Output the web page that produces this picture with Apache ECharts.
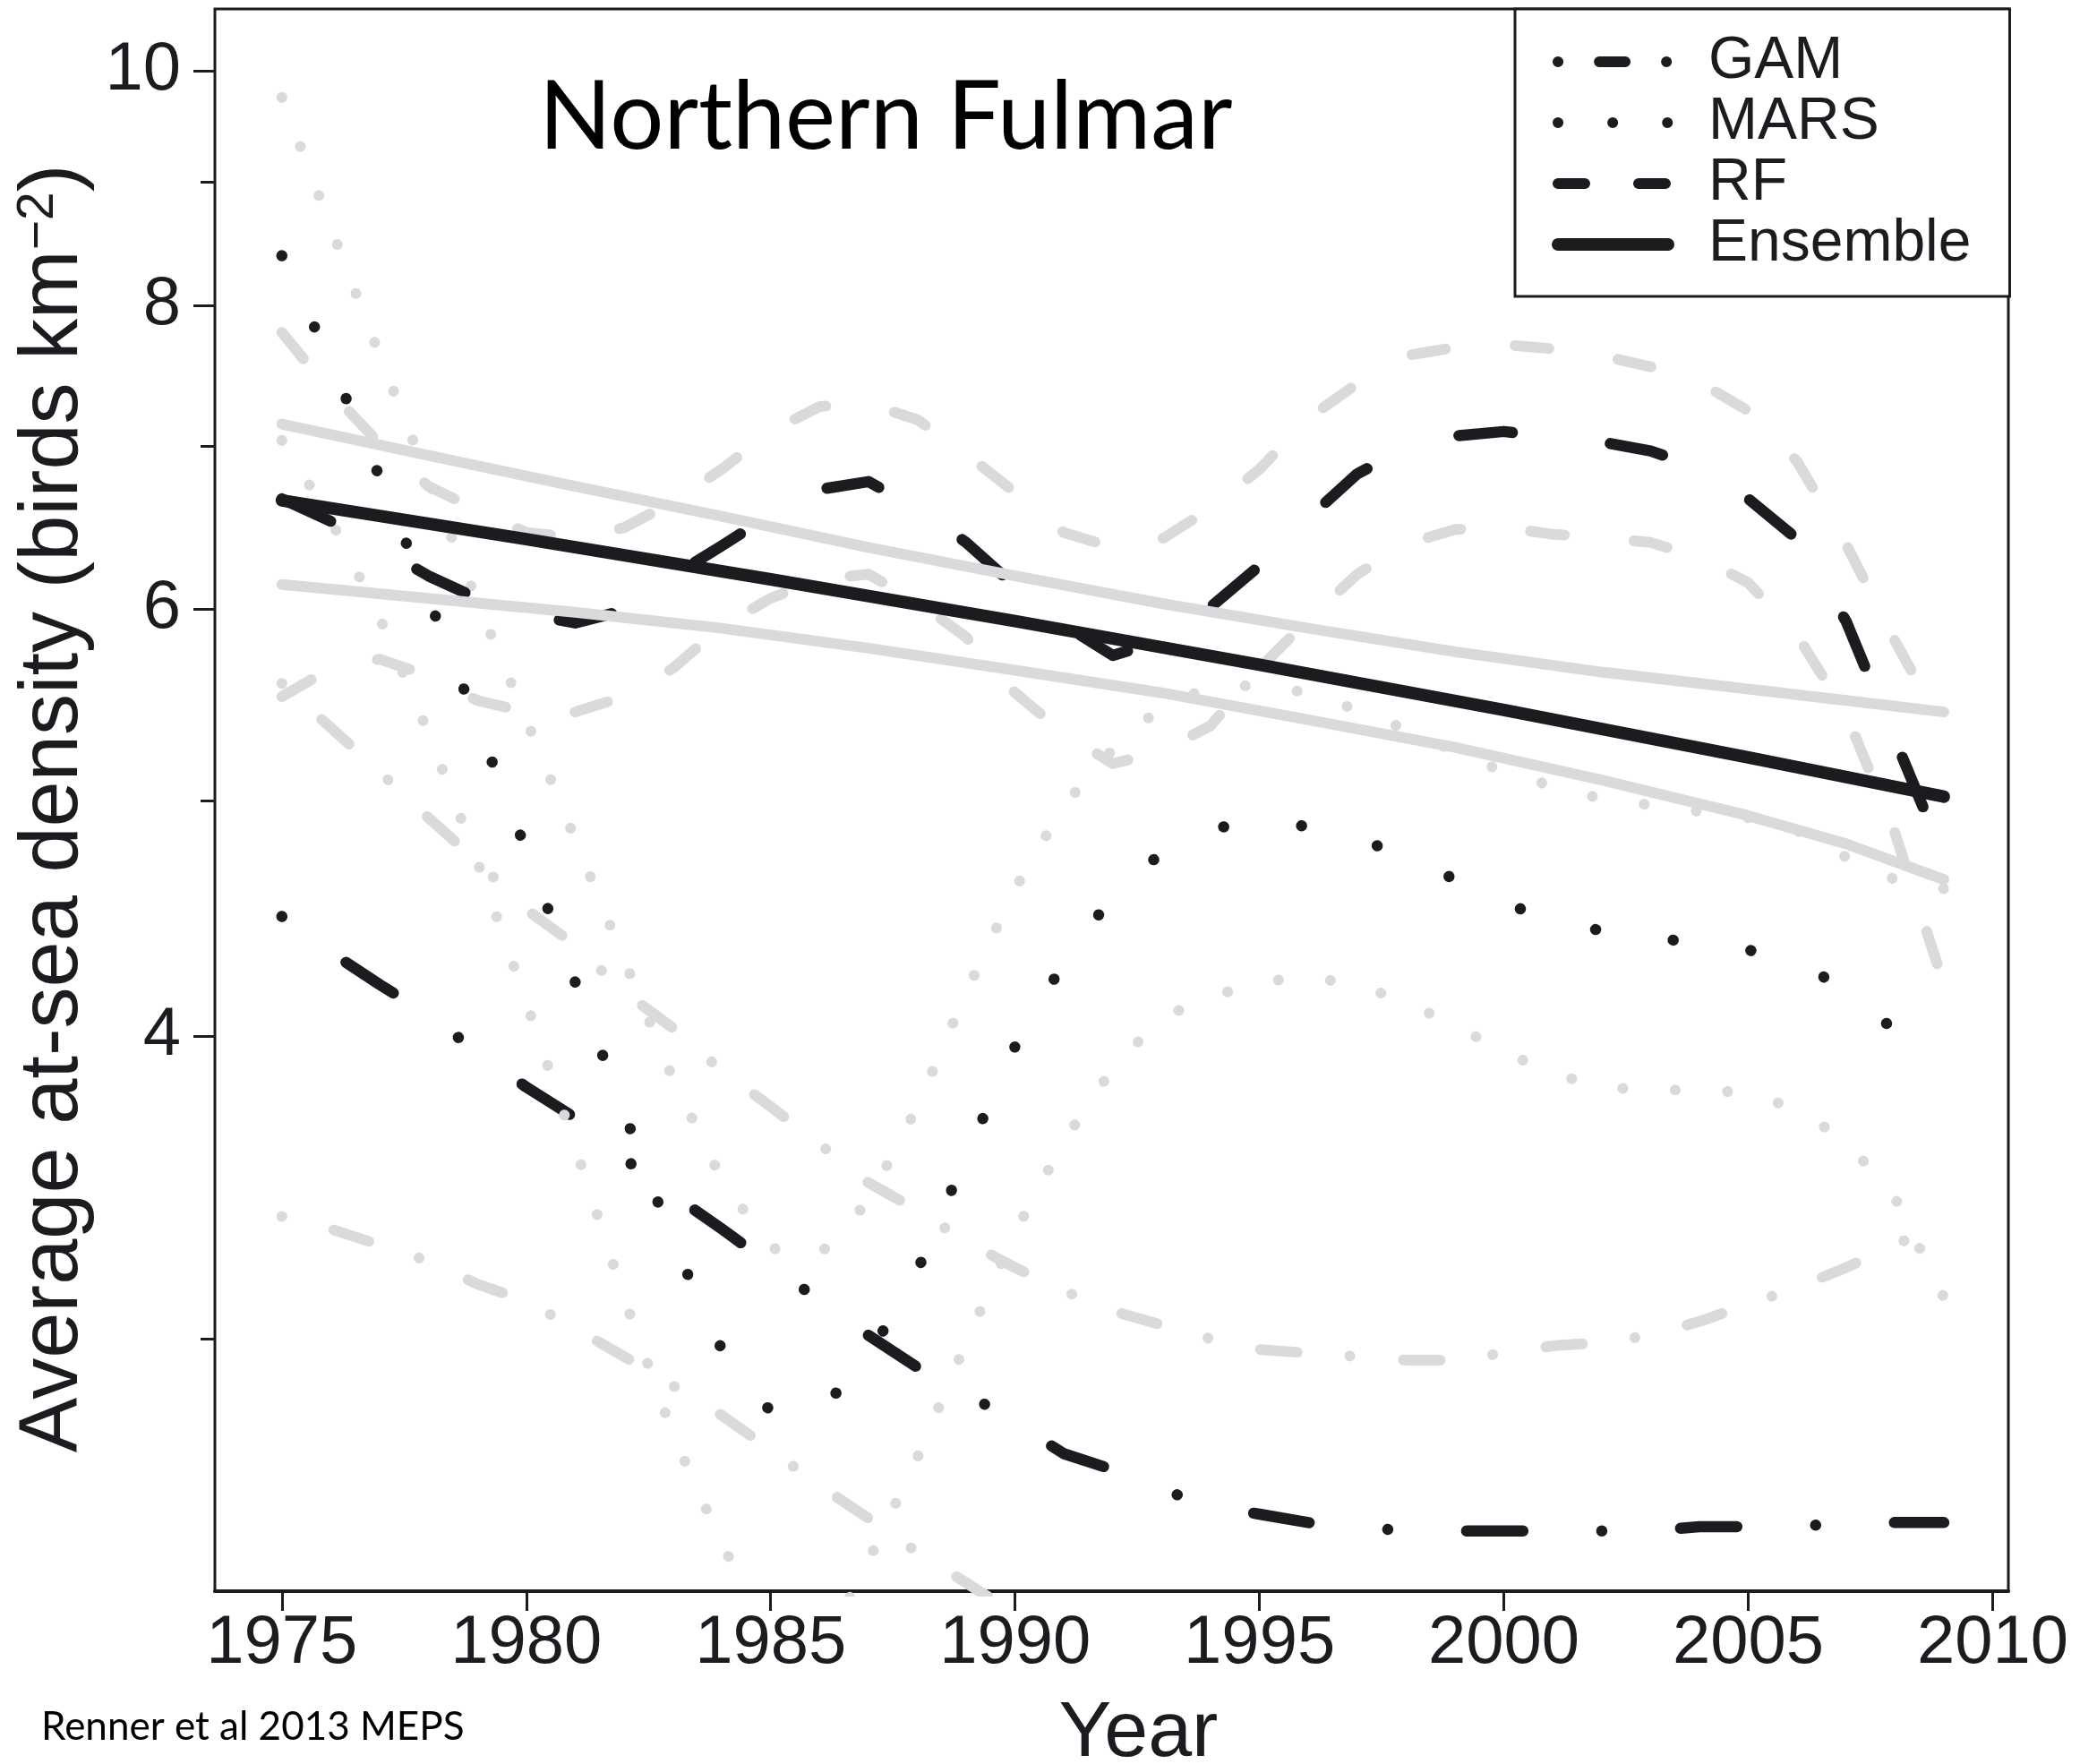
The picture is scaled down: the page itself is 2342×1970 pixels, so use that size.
<!DOCTYPE html>
<html>
<head>
<meta charset="utf-8">
<title>Northern Fulmar</title>
<script src="https://cdn.jsdelivr.net/npm/echarts@6/dist/echarts.min.js"></script>
<style>
  html, body { margin: 0; padding: 0; background: #ffffff; }
  #chart { width: 2342px; height: 1970px; }
</style>
</head>
<body>
<div id="chart"></div>
<script>
// Survey years for the model predictions
const years = [1975, 1976, 1977, 1978, 1979, 1980, 1981, 1982, 1983, 1984,
               1985, 1986, 1987, 1988, 1989, 1990, 1991, 1992, 1993, 1994,
               1995, 1996, 1997, 1998, 1999, 2000, 2001, 2002, 2003, 2004,
               2005, 2006, 2007, 2008, 2009];

// GAM prediction and its confidence band
const gam = [4.48, 4.33, 4.20, 4.08, 3.94, 3.81, 3.70, 3.56, 3.44, 3.33,
             3.22, 3.11, 3.01, 2.92, 2.85, 2.77, 2.69, 2.65, 2.60, 2.56,
             2.54, 2.52, 2.51, 2.50, 2.50, 2.50, 2.50, 2.50, 2.50, 2.51,
             2.51, 2.51, 2.52, 2.52, 2.52];
const gamUpper = [5.59, 5.36, 5.14, 4.92, 4.72, 4.51, 4.36, 4.17, 4.03, 3.87,
                  3.74, 3.61, 3.48, 3.39, 3.29, 3.21, 3.14, 3.08, 3.04, 3.00,
                  2.97, 2.96, 2.95, 2.94, 2.94, 2.96, 2.98, 2.99, 3.01, 3.05,
                  3.10, 3.15, 3.21, 3.28, 3.35];
const gamLower = [3.37, 3.33, 3.28, 3.23, 3.16, 3.11, 3.03, 2.95, 2.87, 2.79,
                  2.70, 2.61, 2.53, 2.45, 2.38, 2.31, null, null, null, null,
                  null, null, null, null, null, null, null, null, null, null,
                  null, null, null, null, null];

// MARS prediction and its confidence band
const mars = [8.39, 7.58, 6.80, 6.06, 5.38, 4.77, 4.21, 3.72, 3.29, 2.97,
              2.80, 2.80, 2.95, 3.20, 3.57, 3.96, 4.29, 4.57, 4.76, 4.87,
              4.90, 4.88, 4.82, 4.75, 4.64, 4.54, 4.46, 4.42, 4.39, 4.37,
              4.34, 4.29, 4.18, 4.02, 3.87];
const marsUpper = [9.75, 8.62, 7.63, 6.78, 6.04, 5.40, 4.82, 4.30, 3.84, 3.49,
                   3.27, 3.25, 3.42, 3.74, 4.17, 4.60, 4.98, 5.25, 5.47, 5.57,
                   5.58, 5.54, 5.45, 5.35, 5.24, 5.14, 5.07, 5.01, 4.98, 4.95,
                   4.92, 4.86, 4.74, 4.64, 4.60];
const marsLower = [7.04, 6.53, 5.95, 5.33, 4.72, 4.13, 3.60, 3.12, 2.74, 2.47,
                   2.26, 2.22, 2.43, 2.68, 2.99, 3.32, 3.62, 3.88, 4.07, 4.15,
                   4.21, 4.23, 4.20, 4.13, 4.04, 3.94, 3.86, 3.81, 3.80, 3.80,
                   3.79, 3.73, 3.62, 3.43, 3.12];

// Random forest prediction and its confidence band
const rf = [6.66, 6.52, 6.36, 6.19, 6.06, 5.97, 5.92, 5.99, 6.19, 6.37,
            6.56, 6.72, 6.77, 6.60, 6.39, 6.13, 5.91, 5.74, 5.82, 6.01,
            6.25, 6.54, 6.82, 6.99, 7.07, 7.10, 7.06, 7.03, 6.97, 6.86,
            6.66, 6.41, 5.93, 5.30, 4.74];
const rfUpper = [7.80, 7.37, 7.02, 6.74, 6.59, 6.45, 6.42, 6.48, 6.64, 6.85,
                 7.10, 7.27, 7.29, 7.18, 6.95, 6.70, 6.45, 6.36, 6.41, 6.60,
                 6.85, 7.19, 7.43, 7.63, 7.69, 7.71, 7.68, 7.63, 7.55, 7.44,
                 7.24, 6.90, 6.38, 5.82, 5.35];
const rfLower = [5.52, 5.67, 5.72, 5.63, 5.50, 5.44, 5.44, 5.52, 5.67, 5.90,
                 6.06, 6.17, 6.20, 6.04, 5.84, 5.54, 5.33, 5.18, 5.24, 5.37,
                 5.67, 5.94, 6.20, 6.38, 6.47, 6.48, 6.44, 6.42, 6.39, 6.30,
                 6.15, 5.85, 5.43, 4.85, 4.20];

// Ensemble trend
const ensYears = [1975, 1980, 1985, 1990, 1995, 2000, 2005, 2009];
const ensemble = [6.65, 6.41, 6.17, 5.93, 5.69, 5.45, 5.21, 5.02];

// Ensemble confidence band
const bandYears = [1975, 1978, 1981, 1984, 1987, 1990, 1993, 1996, 1999, 2002, 2005, 2007, 2009];
const ensUpper = [7.15, 6.94, 6.74, 6.55, 6.36, 6.19, 6.03, 5.89, 5.76, 5.65, 5.56, 5.50, 5.44];
const ensLower = [6.14, 6.06, 5.98, 5.89, 5.78, 5.66, 5.54, 5.40, 5.26, 5.10, 4.93, 4.80, 4.64];

// Axis ticks
const xTicks = [1975, 1980, 1985, 1990, 1995, 2000, 2005, 2010];
const yLabelTicks = [4, 6, 8, 10];
const yMinorTicks = [3, 5, 7, 9];

const INK = '#1b1c20';
const GREY = '#d9dadc';
const SANS = 'Liberation Sans, Arial, Helvetica, sans-serif';

// Dash patterns (px): dot-dash, dots, long dashes
const DASH_GAM = [0.1, 88, 63, 88];
const DASH_GAM_CI = [0.1, 60, 41, 59];
const DOT_MARS = [0.1, 87.4];
const DOT_MARS_CI = [0.1, 58.4];
const DASH_RF = [60, 110];
const DASH_RF_CI = [38, 78];

const pairs = (xs, ys) => xs.map((x, i) => [x, ys[i]]);

function lineSeries(name, xs, ys, color, width, type) {
  return {
    type: 'line',
    name: name,
    data: pairs(xs, ys),
    symbol: 'none',
    showSymbol: false,
    silent: true,
    connectNulls: false,
    clip: true,
    animation: false,
    lineStyle: { color: color, width: width, type: type, cap: 'round', join: 'round' },
    itemStyle: { color: color },
    emphasis: { disabled: true }
  };
}

const series = [
  lineSeries('GAM', years, gam, INK, 12.5, DASH_GAM),
  lineSeries('GAM upper', years, gamUpper, GREY, 12, DASH_GAM_CI),
  lineSeries('GAM lower', years, gamLower, GREY, 12, DASH_GAM_CI),
  lineSeries('MARS', years, mars, INK, 12.5, DOT_MARS),
  lineSeries('MARS upper', years, marsUpper, GREY, 12, DOT_MARS_CI),
  lineSeries('MARS lower', years, marsLower, GREY, 12, DOT_MARS_CI),
  lineSeries('RF', years, rf, INK, 12.5, DASH_RF),
  lineSeries('RF upper', years, rfUpper, GREY, 12, DASH_RF_CI),
  lineSeries('RF lower', years, rfLower, GREY, 12, DASH_RF_CI),
  lineSeries('Ensemble', ensYears, ensemble, INK, 14, 'solid'),
  lineSeries('Ensemble upper', bandYears, ensUpper, GREY, 12, 'solid'),
  lineSeries('Ensemble lower', bandYears, ensLower, GREY, 12, 'solid')
];

const chart = echarts.init(document.getElementById('chart'), null, { renderer: 'canvas' });

chart.setOption({
  animation: false,
  backgroundColor: '#ffffff',
  title: [
    {
      text: 'Northern Fulmar',
      left: 602, top: 79, padding: 0,
      textStyle: { fontFamily: 'Lato', fontSize: 106, fontWeight: 'normal', color: '#000000' }
    },
    {
      text: 'Renner et al 2013 MEPS',
      left: 46, top: 1907, padding: 0,
      textStyle: { fontFamily: 'Lato', fontSize: 44, fontWeight: 'normal', color: '#000000' }
    }
  ],
  legend: {
    orient: 'vertical',
    left: 1692, top: 10,
    padding: [25, 43, 24, 41],
    borderColor: INK, borderWidth: 3,
    backgroundColor: '#ffffff',
    itemWidth: 123, itemHeight: 14, itemGap: 0,
    selectedMode: false,
    itemStyle: { opacity: 0 },
    textStyle: { fontFamily: SANS, fontSize: 66, color: INK, lineHeight: 68, padding: [0, 0, 0, 40] },
    data: [
      { name: 'GAM', lineStyle: { width: 12, type: [0.1, 46, 29, 46], cap: 'round', color: INK } },
      { name: 'MARS', lineStyle: { width: 12, type: [0.1, 61], cap: 'round', color: INK } },
      { name: 'RF', lineStyle: { width: 12, type: [30, 60], cap: 'round', color: INK } },
      { name: 'Ensemble', lineStyle: { width: 14, type: 'solid', cap: 'round', color: INK } }
    ]
  },
  grid: {
    left: 240, right: 99, top: 10, bottom: 193,
    show: true, borderColor: INK, borderWidth: 3,
    containLabel: false, outerBoundsMode: 'none'
  },
  xAxis: {
    type: 'value',
    min: 1973.63, max: 2010.32,
    axisLine: { show: true, onZero: false, lineStyle: { color: INK, width: 4 } },
    axisTick: { show: true, length: 22, lineStyle: { color: INK, width: 3 }, customValues: xTicks },
    axisLabel: {
      customValues: xTicks, margin: 21,
      fontFamily: SANS, fontSize: 76, color: INK,
      formatter: (v) => String(v)
    },
    splitLine: { show: false },
    name: 'Year', nameLocation: 'middle', nameGap: 116,
    nameTextStyle: { fontFamily: SANS, fontSize: 88, color: INK, padding: [0, 0, 0, 60] }
  },
  yAxis: [
    {
      type: 'log', logBase: 10, position: 'left',
      min: 2.361, max: 10.604,
      axisLine: { show: false },
      axisTick: { show: true, length: 24, lineStyle: { color: INK, width: 3 }, customValues: yLabelTicks },
      axisLabel: {
        customValues: yLabelTicks, margin: 38,
        fontFamily: SANS, fontSize: 76, color: INK,
        formatter: (v) => String(v)
      },
      splitLine: { show: false },
      minorTick: { show: false },
      name: 'Average at-sea density (birds km{sup|\u22122})',
      nameLocation: 'middle', nameRotate: 90, nameGap: 131,
      nameTextStyle: {
        fontFamily: SANS, fontSize: 92, color: INK, padding: [0, 19, 0, 0],
        rich: { sup: { fontFamily: SANS, fontSize: 57, color: INK, verticalAlign: 'top' } }
      }
    },
    {
      // unlabelled intermediate ticks
      type: 'log', logBase: 10, position: 'left', offset: 0,
      min: 2.361, max: 10.604,
      axisLine: { show: false },
      axisTick: { show: true, length: 16, lineStyle: { color: INK, width: 3 }, customValues: yMinorTicks },
      axisLabel: { show: false },
      splitLine: { show: false },
      minorTick: { show: false }
    }
  ],
  series: series
});
</script>
</body>
</html>
